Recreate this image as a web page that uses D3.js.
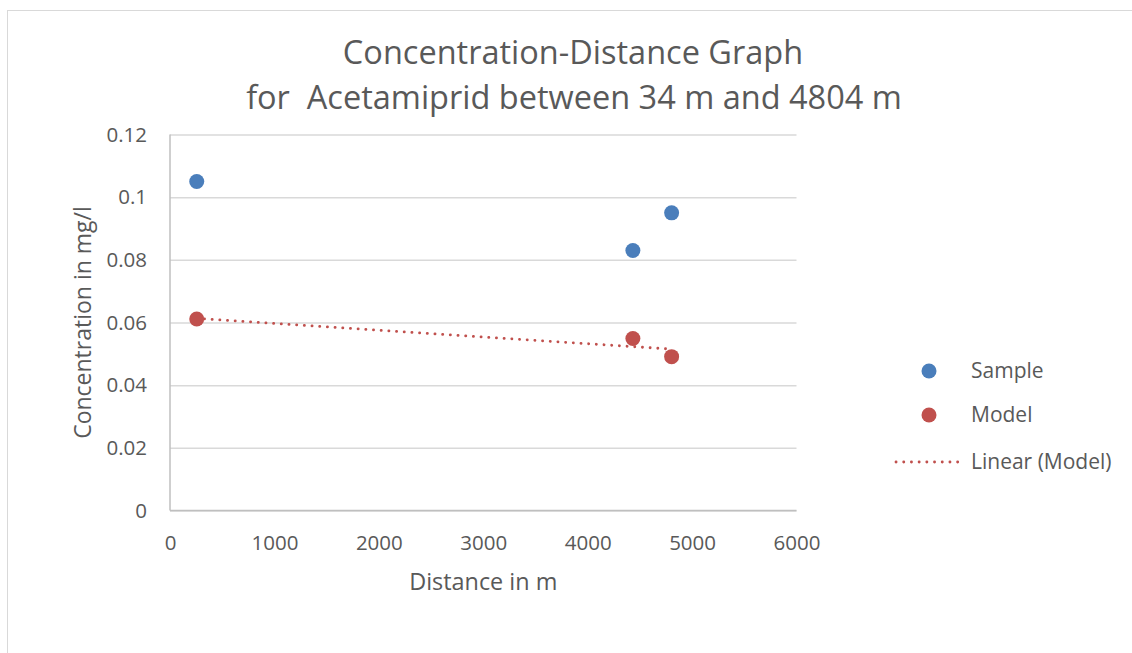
<!DOCTYPE html>
<html>
<head>
<meta charset="utf-8">
<script src="https://cdn.jsdelivr.net/npm/d3@7"></script>
<style>
  html, body { margin: 0; padding: 0; background: #fff; }
  svg { display: block; font-family: "Open Sans", sans-serif; }
</style>
</head>
<body>
<svg id="chart" width="1132" height="653"></svg>
<script>
// Acetamiprid concentrations along the stream (distance in m, concentration in mg/l)
const sampleDistance = [256, 4433, 4804];
const sampleConc = [0.105, 0.083, 0.095];
const modelDistance = [256, 4433, 4804];
const modelConc = [0.0611, 0.0549, 0.0491];

const xTicks = [0, 1000, 2000, 3000, 4000, 5000, 6000];
const yTicks = [0, 0.02, 0.04, 0.06, 0.08, 0.1, 0.12];

const titleLines = ["Concentration-Distance Graph", "for  Acetamiprid between 34 m and 4804 m"];
const xTitle = "Distance in m";
const yTitle = "Concentration in mg/l";
const legendLabels = ["Sample", "Model", "Linear (Model)"];

const blue = "#4a7ebb";
const red = "#c0504d";
const textGray = "#595959";
const gridGray = "#d9d9d9";
const axisGray = "#bfbfbf";

const svg = d3.select("#chart");

// outer chart frame
svg.append("rect")
  .attr("x", 7.5).attr("y", 10.5)
  .attr("width", 1200).attr("height", 700)
  .attr("fill", "#fff").attr("stroke", gridGray).attr("stroke-width", 1);

const plot = { left: 170, right: 796.5, top: 134.5, bottom: 510.5 };

const x = d3.scaleLinear().domain([0, 6000]).range([plot.left, plot.right]);
const y = d3.scaleLinear().domain([0, 0.12]).range([plot.bottom, plot.top]);

// horizontal gridlines with value labels
const yAxis = d3.axisLeft(y).tickValues(yTicks).tickSize(-(plot.right - plot.left))
  .tickPadding(23).tickFormat(d => String(+d.toFixed(2)));
const gy = svg.append("g").attr("transform", `translate(${plot.left},0)`).call(yAxis);
gy.select(".domain").remove();
gy.selectAll(".tick line").attr("stroke", gridGray).attr("stroke-width", 1.5);
gy.selectAll(".tick text").attr("fill", textGray).attr("font-size", 20.5)
  .attr("font-family", "'Open Sans', sans-serif");

const xAxis = d3.axisBottom(x).tickValues(xTicks).tickSize(0).tickPadding(25)
  .tickFormat(d3.format("d"));
const gx = svg.append("g").attr("transform", `translate(0,${plot.bottom})`).call(xAxis);
gx.select(".domain").remove();
gx.selectAll(".tick text").attr("fill", textGray).attr("font-size", 20.5)
  .attr("font-family", "'Open Sans', sans-serif");

// axis lines
svg.append("line").attr("x1", plot.left).attr("x2", plot.left)
  .attr("y1", plot.top).attr("y2", plot.bottom)
  .attr("stroke", axisGray).attr("stroke-width", 1.5);
svg.append("line").attr("x1", plot.left).attr("x2", plot.right)
  .attr("y1", plot.bottom).attr("y2", plot.bottom)
  .attr("stroke", axisGray).attr("stroke-width", 1.5);

// least-squares trend of the model series
const mx = d3.mean(modelDistance), my = d3.mean(modelConc);
const slope = d3.sum(modelDistance, (d, i) => (d - mx) * (modelConc[i] - my)) /
              d3.sum(modelDistance, d => (d - mx) * (d - mx));
const intercept = my - slope * mx;
const xMin = d3.min(modelDistance), xMax = d3.max(modelDistance);
const trend = [[xMin, intercept + slope * xMin], [xMax, intercept + slope * xMax]];

svg.append("path")
  .datum(trend)
  .attr("d", d3.line().x(d => x(d[0])).y(d => y(d[1])))
  .attr("fill", "none").attr("stroke", red).attr("stroke-width", 2.8)
  .attr("stroke-linecap", "round").attr("stroke-dasharray", "0.1 7.6");

// markers
const r = 7.5;
svg.append("g").selectAll("circle").data(modelDistance).join("circle")
  .attr("cx", d => x(d)).attr("cy", (d, i) => y(modelConc[i])).attr("r", r).attr("fill", red);
svg.append("g").selectAll("circle").data(sampleDistance).join("circle")
  .attr("cx", d => x(d)).attr("cy", (d, i) => y(sampleConc[i])).attr("r", r).attr("fill", blue);

// title
svg.append("text").attr("x", 573).attr("y", 64).attr("text-anchor", "middle")
  .attr("fill", textGray).attr("font-size", 32.5).text(titleLines[0]);
svg.append("text").attr("x", 574).attr("y", 109).attr("text-anchor", "middle")
  .attr("fill", textGray).attr("font-size", 32.5).style("white-space", "pre").text(titleLines[1]);

// axis titles
svg.append("text").attr("x", (plot.left + plot.right) / 2).attr("y", 590)
  .attr("text-anchor", "middle").attr("fill", textGray).attr("font-size", 23.4).text(xTitle);
svg.append("text")
  .attr("transform", `translate(91,${(plot.top + plot.bottom) / 2}) rotate(-90)`)
  .attr("text-anchor", "middle").attr("fill", textGray).attr("font-size", 23).text(yTitle);

// legend
const lg = svg.append("g");
const legendY = [371, 415, 462];
lg.append("circle").attr("cx", 929).attr("cy", legendY[0]).attr("r", r).attr("fill", blue);
lg.append("circle").attr("cx", 929).attr("cy", legendY[1]).attr("r", r).attr("fill", red);
lg.append("line").attr("x1", 896).attr("x2", 964).attr("y1", legendY[2]).attr("y2", legendY[2])
  .attr("stroke", red).attr("stroke-width", 2.8).attr("stroke-linecap", "round")
  .attr("stroke-dasharray", "0.1 7.6");
lg.selectAll("text").data(legendLabels).join("text")
  .attr("x", 971).attr("y", (d, i) => legendY[i]).attr("dy", "0.35em")
  .attr("fill", textGray).attr("font-size", 21).text(d => d);
</script>
</body>
</html>
